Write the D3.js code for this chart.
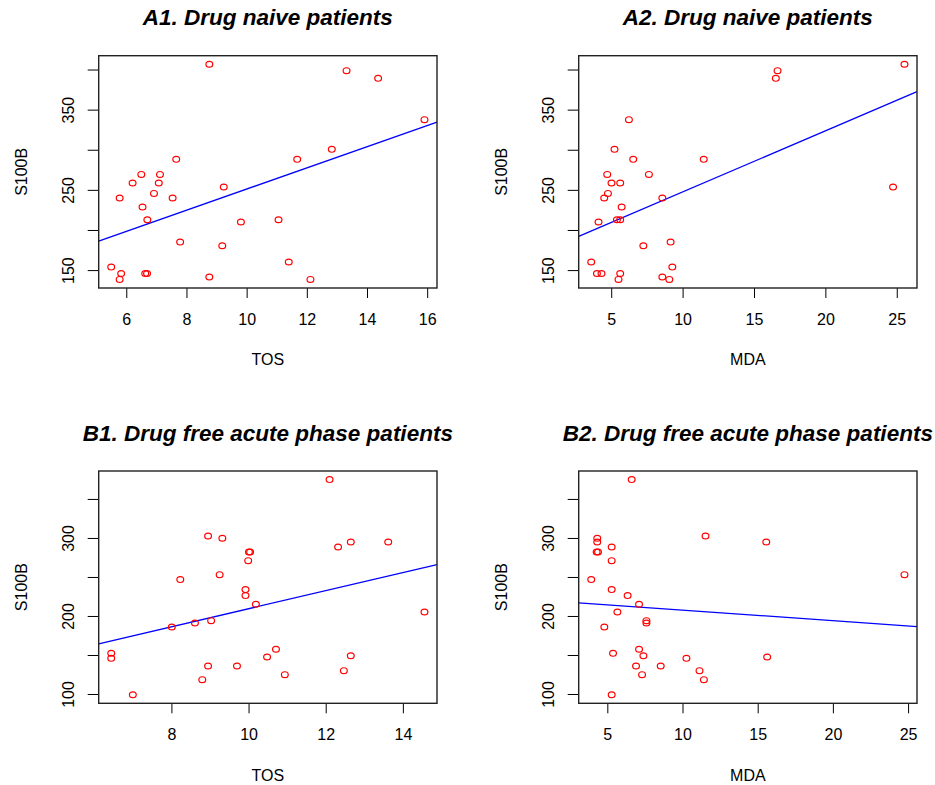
<!DOCTYPE html>
<html>
<head>
<meta charset="utf-8">
<script src="https://cdn.jsdelivr.net/npm/d3@7"></script>
<style>
  body { margin: 0; background: #fff; }
  text { font-family: "Liberation Sans", Arial, sans-serif; fill: #000; }
  .title { font-weight: bold; font-style: italic; font-size: 22.5px; }
  .tick text, .aLabel { font-size: 16px; }
</style>
</head>
<body>
<svg id="chart"></svg>
<script>
// values
let a1Tos = [8.76, 13.32, 14.37, 15.91, 12.83, 11.68, 7.66, 6.5, 7.12, 6.21, 7.08, 9.24, 6.92, 5.78, 7.54,
  6.54, 6.7, 11.06, 9.81, 7.79, 9.19, 11.4, 5.5, 5.83, 6.63, 6.69, 5.78, 8.76, 12.12];
let a1S100b = [406.5, 398.6, 389, 337.5, 300.5, 288, 288, 269.3, 269.3, 258.5, 258.5, 253.5, 245.6, 239.8, 239.8,
  228.6, 212.8, 212.8, 209.9, 184.9, 180.4, 160, 153.7, 145.8, 145.8, 145.8, 138.4, 141.3, 138.4];

let a2Mda = [25.54, 16.65, 16.53, 6.24, 5.23, 6.54, 11.48, 4.72, 7.64, 5.02, 5.63, 24.74, 4.77, 4.51, 8.58,
  5.73, 5.4, 5.63, 4.11, 9.16, 7.25, 3.6, 9.28, 4.0, 4.32, 5.63, 5.51, 8.58, 9.07];
let a2S100b = [406.5, 398.6, 389, 337.5, 300.5, 288, 288, 269.3, 269.3, 258.5, 258.5, 253.5, 245.6, 239.8, 239.8,
  228.6, 212.8, 212.8, 209.9, 184.9, 180.4, 160, 153.7, 145.8, 145.8, 145.8, 138.4, 141.3, 138.4];

let b1Tos = [12.1, 8.95, 9.32, 12.65, 13.62, 12.32, 10.01, 10.04, 9.99, 9.25, 8.23, 9.92, 9.92, 10.19, 14.56,
  8.01, 8.61, 9.03, 6.44, 6.44, 10.71, 10.48, 12.65, 8.95, 9.7, 12.47, 10.94, 8.8, 7.0];
let b1S100b = [374.8, 302.6, 299.6, 294.9, 294.9, 288.5, 282, 282, 270.9, 253, 246.6, 233.8, 226.1, 215, 205.1,
  185.9, 191, 194, 152.1, 145.7, 157.3, 147.4, 149.1, 135.9, 135.9, 129.9, 124.8, 118.4, 99.1];

let b2Mda = [6.62, 11.53, 4.33, 4.33, 15.57, 5.29, 4.29, 4.38, 5.29, 24.76, 3.93, 5.29, 6.35, 7.11, 5.67,
  4.8, 7.6, 7.6, 5.38, 7.11, 7.4, 10.26, 15.63, 6.91, 8.55, 11.13, 7.31, 11.42, 5.29];
let b2S100b = [374.8, 302.6, 299.6, 294.9, 294.9, 288.5, 282, 282, 270.9, 253, 246.6, 233.8, 226.1, 215, 205.1,
  185.9, 191, 194, 152.1, 157.3, 149.1, 145.7, 147.4, 135.9, 135.9, 129.9, 124.8, 118.4, 99.1];

// fitted lines: [intercept, slope]
let a1Fit = [119.1, 13.19];
let a2Fit = [171.2, 7.62];
let b1Fit = [93.6, 11.57];
let b2Fit = [221.0, -1.349];

let titles = ["A1. Drug naive patients", "A2. Drug naive patients",
  "B1. Drug free acute phase patients", "B2. Drug free acute phase patients"];
let xLabels = ["TOS", "MDA", "TOS", "MDA"];
let yLabel = "S100B";

let a1XTicks = [6, 8, 10, 12, 14, 16];
let a2XTicks = [5, 10, 15, 20, 25];
let b1XTicks = [8, 10, 12, 14];
let b2XTicks = [5, 10, 15, 20, 25];
let aYTicks = [150, 200, 250, 300, 350, 400];
let aYLabels = [150, 250, 350];
let bYTicks = [100, 150, 200, 250, 300, 350];
let bYLabels = [100, 200, 300];

let width = 935;
let height = 785;

let svg = d3.select("#chart")
  .attr("width", width)
  .attr("height", height);

let cols = [[98.7, 437], [578.7, 917]];
let rows = [[55.7, 288], [471, 703.3]];
let titleY = [25, 440.7];

let panels = [
  { xs: a1Tos, ys: a1S100b, fit: a1Fit, xt: a1XTicks, yt: aYTicks, yl: aYLabels, c: 0, r: 0 },
  { xs: a2Mda, ys: a2S100b, fit: a2Fit, xt: a2XTicks, yt: aYTicks, yl: aYLabels, c: 1, r: 0 },
  { xs: b1Tos, ys: b1S100b, fit: b1Fit, xt: b1XTicks, yt: bYTicks, yl: bYLabels, c: 0, r: 1 },
  { xs: b2Mda, ys: b2S100b, fit: b2Fit, xt: b2XTicks, yt: bYTicks, yl: bYLabels, c: 1, r: 1 }
];

// R style range: data extent plus 4% each side
function padExtent(vals) {
  let lo = d3.min(vals);
  let hi = d3.max(vals);
  let pad = (hi - lo) * 0.04;
  return [lo - pad, hi + pad];
}

function drawPanel(p, i) {
  let left = cols[p.c][0], right = cols[p.c][1];
  let top = rows[p.r][0], bottom = rows[p.r][1];

  let xScale = d3.scaleLinear().domain(padExtent(p.xs)).range([left, right]);
  let yScale = d3.scaleLinear().domain(padExtent(p.ys)).range([bottom, top]);

  let g = svg.append("g").attr("class", "panel");

  g.append("text")
    .attr("class", "title")
    .attr("x", (left + right) / 2)
    .attr("y", titleY[p.r])
    .attr("text-anchor", "middle")
    .text(titles[i]);

  let xAxis = d3.axisBottom(xScale)
    .tickValues(p.xt)
    .tickSize(10)
    .tickSizeOuter(0)
    .tickPadding(15.5)
    .tickFormat(d3.format("d"));
  let xg = g.append("g")
    .attr("transform", "translate(0," + bottom + ")")
    .call(xAxis);
  xg.select(".domain").remove();
  xg.selectAll(".tick line").attr("stroke", "#000");

  let yAxis = d3.axisLeft(yScale)
    .tickValues(p.yt)
    .tickSize(11)
    .tickSizeOuter(0)
    .tickFormat(function(d) {
      return p.yl.indexOf(d) >= 0 ? d : "";
    });
  let yg = g.append("g")
    .attr("transform", "translate(" + left + ",0)")
    .call(yAxis);
  yg.select(".domain").remove();
  yg.selectAll(".tick line").attr("stroke", "#000");
  yg.selectAll(".tick text")
    .attr("x", null)
    .attr("dy", null)
    .attr("text-anchor", "middle")
    .attr("transform", "translate(-24.7,0) rotate(-90)");

  g.append("text")
    .attr("class", "aLabel")
    .attr("x", (left + right) / 2)
    .attr("y", bottom + 77.3)
    .attr("text-anchor", "middle")
    .text(xLabels[i]);

  g.append("text")
    .attr("class", "aLabel")
    .attr("text-anchor", "middle")
    .attr("transform", "translate(" + (left - 71.4) + "," + ((top + bottom) / 2) + ") rotate(-90)")
    .text(yLabel);

  // regression line across the plot region
  let xd = xScale.domain();
  g.append("line")
    .attr("x1", xScale(xd[0]))
    .attr("y1", yScale(p.fit[0] + p.fit[1] * xd[0]))
    .attr("x2", xScale(xd[1]))
    .attr("y2", yScale(p.fit[0] + p.fit[1] * xd[1]))
    .attr("stroke", "#0000ff")
    .attr("stroke-width", 1.3);

  g.selectAll("ellipse")
    .data(d3.zip(p.xs, p.ys))
    .enter()
    .append("ellipse")
    .attr("cx", function(d) { return xScale(d[0]); })
    .attr("cy", function(d) { return yScale(d[1]); })
    .attr("rx", 3.4)
    .attr("ry", 2.9)
    .attr("fill", "none")
    .attr("stroke", "#ff0000")
    .attr("stroke-width", 1.2);

  g.append("rect")
    .attr("x", left)
    .attr("y", top)
    .attr("width", right - left)
    .attr("height", bottom - top)
    .attr("fill", "none")
    .attr("stroke", "#222")
    .attr("stroke-width", 1.4);
}

panels.forEach(drawPanel);
</script>
</body>
</html>
